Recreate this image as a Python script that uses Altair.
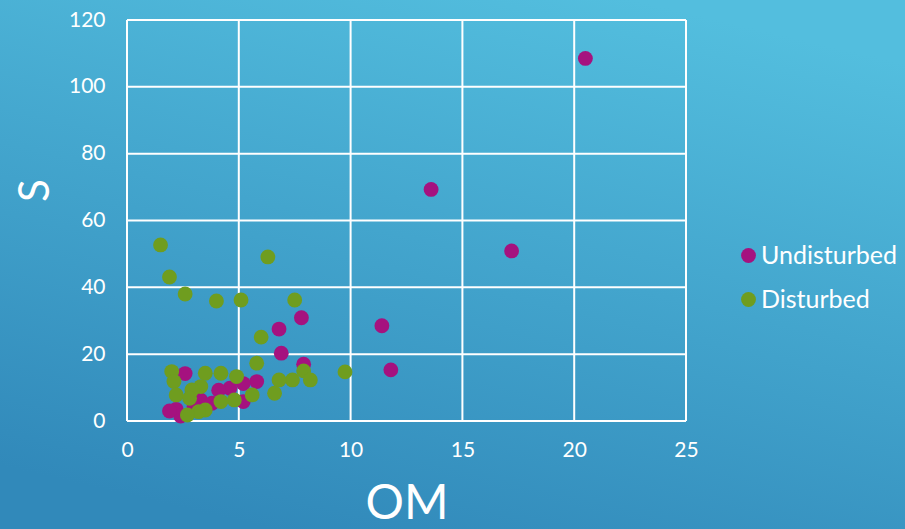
import altair as alt
import pandas as pd

# Soil organic matter (OM) vs S, by site condition
undisturbed_om = [20.5, 13.6, 17.2, 11.4, 11.8, 7.8, 6.8, 6.9, 7.9, 2.6,
                  5.8, 5.2, 4.6, 4.1, 5.2, 3.3, 3.8, 3.0, 2.2, 2.4, 1.9]
undisturbed_s = [108.5, 69.3, 50.9, 28.5, 15.3, 30.9, 27.5, 20.3, 17.0, 14.2,
                 11.8, 11.2, 9.8, 9.2, 5.8, 6.2, 5.3, 4.3, 3.5, 1.5, 3.0]

disturbed_om = [1.5, 1.9, 2.6, 4.0, 5.1, 6.3, 7.5, 6.0, 9.75, 5.8,
                7.9, 8.2, 7.4, 6.8, 6.6, 5.6, 4.8, 4.2, 4.9, 4.2,
                3.5, 2.0, 2.1, 3.3, 2.9, 2.2, 2.8, 3.5, 3.2, 2.7]
disturbed_s = [52.7, 43.1, 38.0, 35.9, 36.2, 49.1, 36.2, 25.1, 14.7, 17.3,
               15.0, 12.3, 12.3, 12.3, 8.3, 7.8, 6.3, 5.8, 13.3, 14.3,
               14.3, 14.8, 11.8, 10.3, 9.3, 7.8, 6.8, 3.3, 2.8, 1.8]

groups = ["Undisturbed", "Disturbed"]
group_colors = ["#A5127F", "#6F9D1F"]
x_ticks = [0, 5, 10, 15, 20, 25]
y_ticks = [0, 20, 40, 60, 80, 100, 120]

points = pd.DataFrame({
    "OM": undisturbed_om + disturbed_om,
    "S": undisturbed_s + disturbed_s,
    "Condition": [groups[0]] * len(undisturbed_om) + [groups[1]] * len(disturbed_om),
})

W, H = 559, 401
PAD_L, PAD_T = 127, 20
FONT = "Lato"

x_scale = alt.Scale(domain=[0, 25], nice=False, zero=False)
y_scale = alt.Scale(domain=[0, 120], nice=False, zero=False)

x_axis = alt.Axis(
    title="OM", values=x_ticks, grid=False, domain=False, ticks=False, zindex=1,
    labelFontSize=21, labelColor="white", labelPadding=18, labelFont=FONT, labelFlush=False,
    titleFontSize=48, titleColor="white", titleFont=FONT, titleFontWeight="normal",
    titleX=W / 2, titleY=97, titleBaseline="alphabetic", titleAlign="center",
)
y_axis = alt.Axis(
    title="S", values=y_ticks, grid=False, domain=False, ticks=False, zindex=1,
    labelFontSize=21, labelColor="white", labelPadding=22, labelFont=FONT, labelFlush=False,
    titleFontSize=42, titleColor="white", titleFont=FONT, titleFontWeight="normal",
    titleAngle=-90, titleX=-79, titleY=170, titleBaseline="alphabetic", titleAlign="center",
)

# full-canvas gradient backdrop
backdrop = alt.Chart(pd.DataFrame({"k": [0]})).mark_rect(
    fill=alt.Gradient(
        gradient="linear",
        stops=[alt.GradientStop(color="#53BEDE", offset=0),
               alt.GradientStop(color="#3189BA", offset=1)],
        x1=0.7, y1=0, x2=0.3, y2=1,
    )
).encode(
    x=alt.value(-PAD_L), x2=alt.value(905 - PAD_L),
    y=alt.value(-PAD_T), y2=alt.value(529 - PAD_T),
)

vgrid = alt.Chart(pd.DataFrame({"v": x_ticks})).mark_rule(
    color="white", strokeWidth=2
).encode(
    x=alt.X("v:Q", scale=x_scale, axis=x_axis),
    y=alt.value(0), y2=alt.value(H),
)

hgrid = alt.Chart(pd.DataFrame({"v": y_ticks})).mark_rule(
    color="white", strokeWidth=2
).encode(
    y=alt.Y("v:Q", scale=y_scale, axis=y_axis),
    x=alt.value(0), x2=alt.value(W),
)

dots = alt.Chart(points).mark_circle(size=220, opacity=1).encode(
    x=alt.X("OM:Q", scale=x_scale, axis=x_axis),
    y=alt.Y("S:Q", scale=y_scale, axis=y_axis),
    color=alt.Color(
        "Condition:N",
        scale=alt.Scale(domain=groups, range=group_colors),
        legend=alt.Legend(
            title=None, orient="none", legendX=609, legendY=223, zindex=1,
            symbolType="circle", symbolSize=220, symbolOpacity=1,
            labelFontSize=25, labelColor="white", labelFont=FONT,
            labelOffset=0, rowPadding=18,
        ),
    ),
)

chart = alt.layer(backdrop, vgrid, hgrid, dots).properties(
    width=W, height=H,
    autosize=alt.AutoSizeParams(type="none"),
    padding={"left": PAD_L, "top": PAD_T, "right": 905 - PAD_L - W, "bottom": 529 - PAD_T - H},
    background="#3FA3CC",
).configure_view(stroke=None)

chart.save("out.html", embed_options={"renderer": "svg", "actions": False})
